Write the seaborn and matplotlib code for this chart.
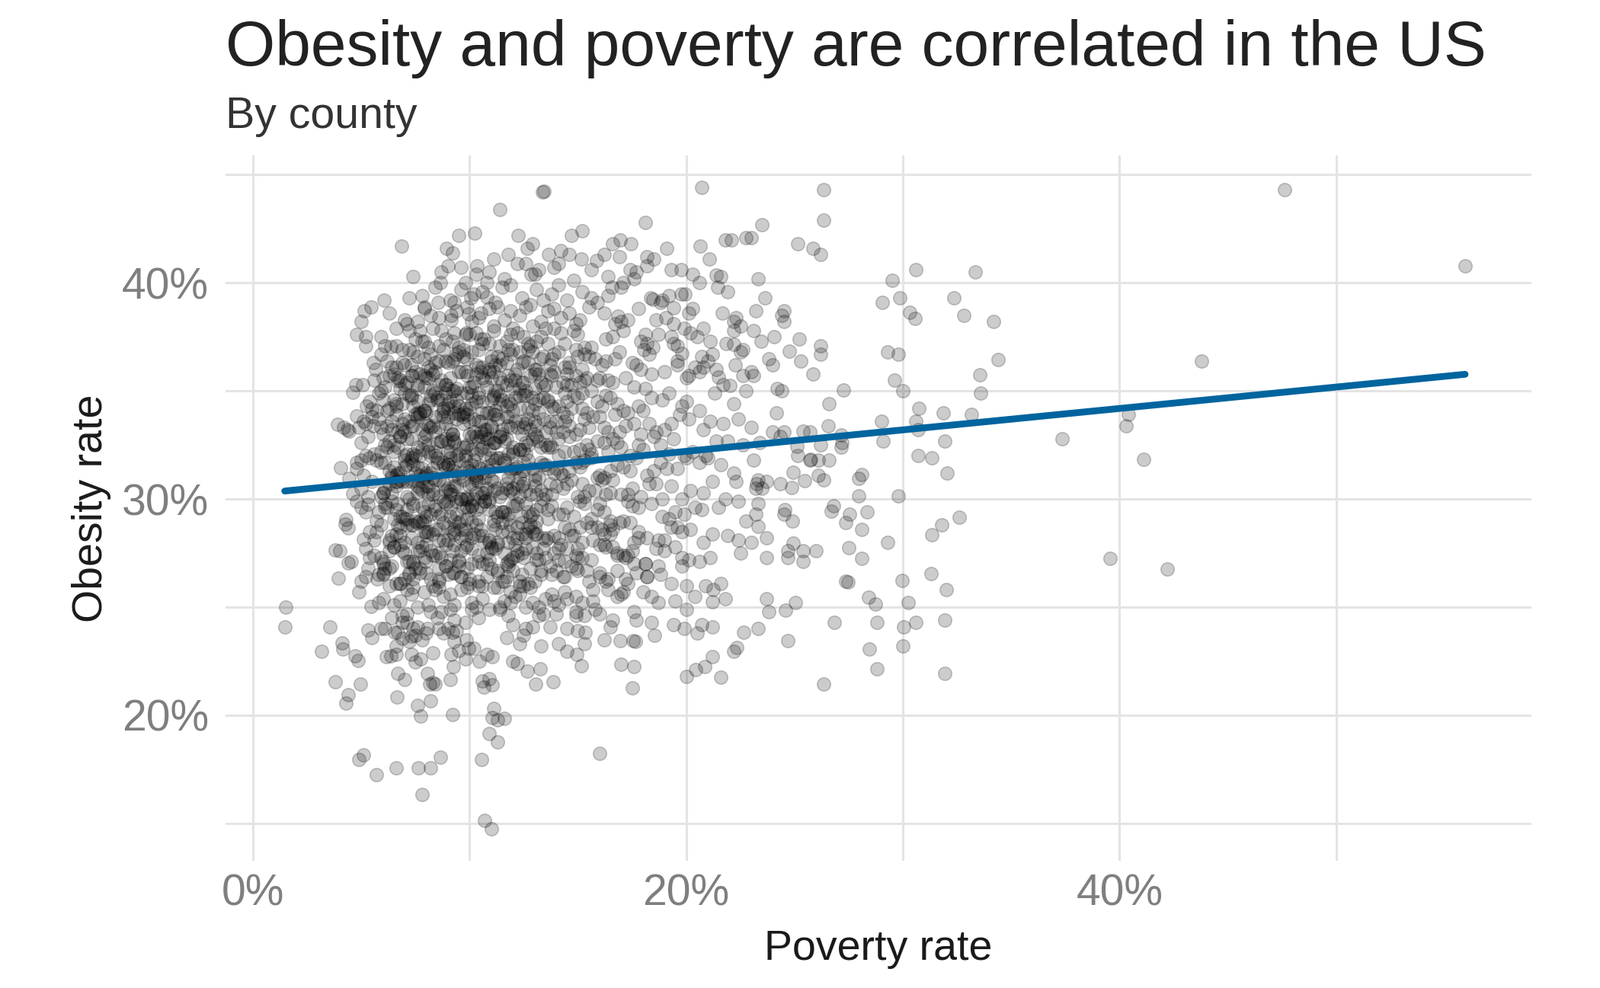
import pandas as pd
import matplotlib.pyplot as plt
import seaborn as sns
from matplotlib.ticker import FuncFormatter, MultipleLocator

# Dense middle of the cloud, read band by band (obesity 41% down to 23%)
core_poverty = [
    9.2, 11.1, 12.9, 14.2, 16.2, 19.1,
    7.4, 9.0, 10.9, 11.6, 12.2, 13.0, 13.9, 14.8, 15.6, 16.4, 18.2, 20.3,
    7.8, 8.4, 9.1, 10.6, 11.2, 11.9, 12.4, 13.1, 13.8, 14.5,
    15.2, 15.9, 16.4, 11.5, 12.8, 14.1, 15.6, 10.2, 9.6, 13.4,
    6.3, 7.1, 7.9, 8.6, 9.4, 10.1, 10.9, 11.6, 12.3, 12.9,
    13.6, 14.2, 14.9, 15.5, 16.2, 17.0, 17.8, 18.6, 11.1, 12.6,
    8.2, 9.9, 13.3, 14.6, 16.7, 10.4, 11.9, 15.1, 19.4, 13.9,
    5.9, 6.6, 7.2, 7.8, 8.3, 8.9, 9.5, 10.0, 10.6, 11.1,
    11.7, 12.2, 12.8, 13.3, 13.9, 14.4, 15.0, 15.6, 16.3, 17.1,
    17.9, 18.7, 19.6, 20.8, 9.2, 10.3, 11.4, 12.5, 13.6, 14.8,
    7.5, 8.6, 9.8, 10.9, 12.0, 13.1, 14.2, 15.3, 16.6, 18.2,
    11.9, 12.7, 13.5, 10.5, 8.1,
    6.2, 7.4, 8.1, 9.7, 10.3, 11.8, 12.4, 13.9, 15.2, 16.7,
    5.9, 7.0, 8.8, 9.2, 10.9, 11.3, 12.9, 14.4, 15.8, 17.5,
    6.6, 7.9, 8.4, 10.1, 11.0, 12.2, 13.4, 14.9, 16.1, 18.3,
    7.2, 8.6, 9.4, 10.6, 11.5, 12.7, 13.1, 14.1, 15.5, 19.6,
    6.9, 8.2, 9.9, 10.4, 11.9, 12.5, 13.7, 15.0, 16.9, 20.4,
    7.6, 9.0, 9.5, 11.2, 12.0, 13.3, 14.6, 16.3, 17.9, 21.2,
    5.6, 6.8, 7.7, 8.9, 9.6, 10.8, 11.4, 12.6, 13.8, 15.1,
    6.1, 7.3, 8.3, 9.1, 10.2, 11.1, 12.3, 13.2, 14.7, 16.4,
    6.5, 7.1, 8.0, 9.4, 10.5, 11.7, 12.8, 14.0, 15.6, 17.2,
    5.9, 7.5, 8.6, 9.9, 10.0, 11.9, 13.0, 14.3, 16.0, 18.1,
    6.7, 7.9, 8.4, 9.3, 10.7, 12.1, 13.5, 14.9, 16.6, 19.0,
    7.0, 8.1, 9.0, 10.3, 11.3, 12.5, 13.9, 15.3, 17.6, 20.1,
    6.3, 7.6, 8.7, 9.8, 11.0, 12.0, 13.3, 14.5, 15.9, 21.7,
    5.4, 6.3, 7.2, 8.0, 8.7, 9.5, 10.4, 11.2, 12.1, 13.0,
    13.9, 14.8, 15.9, 17.1, 18.4, 19.8, 21.3, 6.0, 7.6, 9.0,
    5.8, 6.9, 7.9, 8.5, 9.3, 10.1, 10.9, 11.8, 12.7, 13.6,
    14.5, 15.4, 16.5, 17.8, 19.2, 20.6, 6.6, 8.2, 9.8, 11.5,
    6.2, 7.3, 8.1, 8.9, 9.7, 10.6, 11.4, 12.3, 13.2, 14.1,
    15.0, 16.1, 17.3, 18.9, 22.2, 7.0, 8.8, 10.3, 12.5, 14.3,
    6.5, 7.7, 9.1, 10.0, 11.1, 12.0, 12.9, 13.8, 15.2, 16.8,
    7.4, 8.4, 9.4, 10.8, 11.9, 13.4, 14.7, 16.3, 18.0, 20.0,
    4.9, 5.8, 6.7, 7.5, 8.3, 9.2, 10.0, 10.8, 11.7, 12.6,
    13.5, 14.4, 15.5, 16.7, 17.9, 19.3, 20.8, 22.4, 6.2, 8.8,
    5.5, 6.4, 7.2, 8.0, 8.9, 9.6, 10.5, 11.3, 12.2, 13.1,
    14.0, 14.9, 16.0, 17.2, 18.6, 20.1, 21.7, 7.8, 9.9, 11.9,
    6.0, 6.9, 7.7, 8.6, 9.4, 10.2, 11.0, 11.8, 12.8, 13.7,
    14.6, 15.7, 16.9, 18.3, 19.7, 23.0, 7.0, 10.7, 12.4, 15.1,
    5.2, 6.6, 7.4, 8.4, 9.1, 10.4, 11.5, 12.5, 13.4, 14.3,
    15.3, 16.4, 17.6, 19.0, 21.1, 8.1, 9.7, 11.1, 13.0, 16.2,
    5.0, 5.9, 6.8, 7.6, 8.4, 9.3, 10.1, 10.9, 11.8, 12.7,
    13.6, 14.6, 15.6, 16.8, 18.0, 19.4, 20.9, 22.6, 6.3, 9.0,
    5.6, 6.5, 7.3, 8.1, 9.0, 9.8, 10.6, 11.4, 12.3, 13.2,
    14.1, 15.1, 16.2, 17.4, 18.8, 20.3, 21.9, 7.9, 10.3, 12.0,
    6.1, 7.0, 7.8, 8.7, 9.5, 10.3, 11.1, 12.0, 12.9, 13.8,
    14.8, 15.9, 17.0, 18.5, 19.9, 23.4, 7.1, 10.8, 12.5, 15.4,
    5.3, 6.7, 7.5, 8.5, 9.2, 10.5, 11.6, 12.6, 13.5, 14.4,
    15.5, 16.6, 17.8, 19.2, 21.4, 8.2, 9.8, 11.2, 13.1, 16.4,
    4.8, 5.7, 6.6, 7.4, 8.2, 9.1, 9.9, 10.7, 11.6, 12.5,
    13.4, 14.3, 15.3, 16.5, 17.7, 19.1, 20.6, 22.2, 6.4, 8.9,
    5.4, 6.3, 7.1, 7.9, 8.8, 9.6, 10.4, 11.2, 12.1, 13.0,
    13.9, 14.9, 15.9, 17.1, 18.5, 20.0, 21.6, 7.7, 10.2, 11.9,
    5.9, 6.8, 7.6, 8.5, 9.3, 10.1, 10.9, 11.8, 12.7, 13.6,
    14.6, 15.6, 16.8, 18.2, 19.6, 23.1, 7.0, 10.6, 12.3, 15.2,
    5.1, 6.5, 7.3, 8.3, 9.0, 10.3, 11.4, 12.4, 13.3, 14.2,
    15.1, 16.2, 17.4, 18.8, 21.0, 8.0, 9.5, 11.0, 12.9, 16.0,
    5.0, 5.9, 6.7, 7.6, 8.4, 9.2, 10.0, 10.9, 11.7, 12.6,
    13.5, 14.5, 15.5, 16.6, 17.9, 19.3, 20.8, 22.3, 6.1, 9.6,
    5.5, 6.4, 7.2, 8.0, 8.9, 9.7, 10.5, 11.3, 12.2, 13.1,
    14.0, 15.0, 16.1, 17.3, 18.6, 20.2, 21.8, 7.8, 10.3, 12.0,
    6.0, 6.9, 7.7, 8.6, 9.4, 10.2, 11.0, 11.9, 12.8, 13.7,
    14.7, 15.8, 17.0, 18.3, 19.8, 23.5, 7.1, 10.7, 12.4, 15.3,
    5.3, 6.6, 7.4, 8.3, 9.1, 10.4, 11.5, 12.5, 13.4, 14.3,
    15.2, 16.3, 17.5, 18.9, 21.2, 8.1, 9.9, 11.1, 13.0, 16.5,
    5.2, 6.1, 7.0, 7.8, 8.6, 9.4, 10.3, 11.1, 12.0, 12.9,
    13.8, 14.8, 15.9, 17.1, 18.4, 19.9, 21.5, 6.5, 9.0, 11.6,
    5.7, 6.6, 7.4, 8.2, 9.1, 9.9, 10.7, 11.5, 12.4, 13.3,
    14.3, 15.3, 16.5, 17.8, 19.2, 20.7, 22.4, 8.0, 10.1, 12.7,
    6.2, 7.1, 7.9, 8.8, 9.6, 10.5, 11.3, 12.2, 13.1, 14.1,
    15.1, 16.2, 17.5, 18.9, 20.4, 7.5, 10.9, 13.6, 16.0, 23.2,
    6.8, 8.4, 9.3, 10.0, 11.8, 12.6, 14.5, 15.6, 17.3, 19.5,
    5.4, 6.3, 7.1, 8.0, 8.8, 9.6, 10.5, 11.3, 12.2, 13.1,
    14.1, 15.1, 16.2, 17.4, 18.7, 20.2, 21.9, 6.7, 9.2, 11.8,
    5.9, 6.8, 7.6, 8.4, 9.3, 10.1, 10.9, 11.8, 12.7, 13.6,
    14.6, 15.7, 16.9, 18.2, 19.6, 21.2, 23.0, 7.4, 10.4, 12.9,
    6.4, 7.3, 8.1, 9.0, 9.8, 10.7, 11.5, 12.4, 13.4, 14.4,
    15.4, 16.5, 17.8, 19.3, 20.8, 7.9, 11.1, 13.9, 16.1, 22.4,
    5.6, 8.6, 9.5, 10.2, 12.0, 12.8, 14.8, 15.9, 17.6, 19.8,
    5.6, 6.5, 7.4, 8.2, 9.1, 9.9, 10.8, 11.7, 12.6, 13.5,
    14.5, 15.6, 16.8, 18.1, 19.5, 21.1, 6.9, 9.5, 12.1, 14.9,
    6.0, 7.0, 7.8, 8.7, 9.6, 10.4, 11.3, 12.2, 13.1, 14.1,
    15.2, 16.3, 17.6, 19.0, 20.6, 22.5, 8.0, 10.9, 13.4, 17.1,
    6.3, 7.2, 8.4, 9.3, 10.1, 11.0, 11.9, 12.9, 13.9, 15.0,
    16.0, 17.3, 18.6, 20.1, 7.6, 10.6, 12.4, 14.4, 16.6, 19.8,
    5.8, 6.8, 7.7, 8.6, 9.5, 10.4, 11.3, 12.3, 13.3, 14.4,
    15.5, 16.8, 18.2, 19.8, 21.6, 7.2, 10.0, 12.8, 6.3, 9.0,
    6.1, 7.4, 8.3, 9.2, 10.8, 11.8, 12.7, 13.8, 15.0, 16.3,
    17.7, 19.3, 8.9, 11.5, 14.0, 16.0, 7.0, 9.9, 12.4, 20.9,
    6.6, 8.0, 9.6, 11.0, 13.0, 14.7, 17.2, 10.6, 12.0, 18.8,
    6.0, 7.1, 8.1, 9.1, 10.1, 11.1, 12.1, 13.2, 14.4, 15.7,
    17.1, 18.7, 20.4, 7.6, 9.6, 11.6, 13.8, 6.5, 8.6, 10.6,
    12.6, 14.9, 16.4, 19.5, 7.3, 9.3, 11.3, 13.5, 15.2, 18.0,
    6.8, 8.4, 10.3, 12.3, 14.1, 16.8, 9.9, 11.9, 7.9, 21.8,
    6.4, 7.6, 8.7, 9.8, 10.9, 12.0, 13.2, 14.5, 16.0, 17.7,
    19.4, 7.1, 9.3, 11.4, 13.7, 15.3, 18.4, 8.2, 10.4, 12.6,
    14.9, 6.9, 9.0, 11.8, 16.6, 10.1, 12.9, 8.5, 14.0, 20.7,
    7.2, 8.8, 10.2, 11.7, 13.3, 15.0, 16.2, 9.5, 12.5, 14.1,
]
core_obesity = [
    41.4, 41.1, 41.8, 41.5, 41.3, 41.6,
    40.3, 40.8, 40.5, 40.2, 40.9, 40.4, 40.7, 40.1, 40.6, 40.3, 40.8, 40.4,
    39.4, 39.8, 39.2, 39.6, 39.1, 39.9, 39.3, 39.7, 39.5, 39.2,
    39.6, 39.1, 39.4, 39.8, 39.0, 39.9, 39.3, 39.5, 39.7, 39.2,
    38.6, 38.1, 38.9, 38.4, 38.7, 38.2, 38.8, 38.3, 38.5, 38.0,
    38.7, 38.4, 38.1, 38.9, 38.6, 38.2, 38.8, 38.3, 38.0, 38.9,
    38.5, 38.9, 38.2, 38.6, 38.1, 38.4, 38.7, 38.3, 38.1, 38.8,
    37.5, 37.1, 37.8, 37.3, 37.9, 37.4, 37.0, 37.6, 37.2, 37.8,
    37.3, 37.7, 37.1, 37.5, 37.9, 37.2, 37.6, 37.0, 37.4, 37.8,
    37.3, 37.6, 37.1, 37.9, 37.3, 37.7, 37.1, 37.5, 37.2, 37.8,
    37.4, 37.1, 37.6, 37.2, 37.9, 37.3, 37.7, 37.0, 37.5, 37.2,
    37.6, 37.2, 37.9, 37.4, 37.0,
    36.4, 36.8, 36.1, 36.6, 36.2, 36.9, 36.3, 36.7, 36.0, 36.5,
    36.7, 36.2, 36.9, 36.4, 36.0, 36.6, 36.8, 36.1, 36.5, 36.3,
    36.1, 36.5, 36.3, 36.8, 36.4, 36.0, 36.6, 36.9, 36.2, 36.7,
    36.9, 36.4, 36.7, 36.1, 36.5, 36.3, 36.0, 36.8, 36.6, 36.2,
    36.3, 36.0, 36.5, 36.9, 36.7, 36.4, 36.2, 36.6, 36.8, 36.1,
    36.6, 36.3, 36.8, 36.2, 36.9, 36.5, 36.1, 36.4, 36.0, 36.7,
    35.5, 35.1, 35.8, 35.3, 35.9, 35.2, 35.6, 35.0, 35.7, 35.4,
    35.2, 35.7, 35.0, 35.6, 35.4, 35.9, 35.1, 35.8, 35.3, 35.5,
    35.8, 35.4, 35.6, 35.1, 35.9, 35.3, 35.7, 35.2, 35.0, 35.6,
    35.0, 35.9, 35.3, 35.7, 35.2, 35.5, 35.8, 35.4, 35.6, 35.1,
    35.6, 35.2, 35.9, 35.0, 35.5, 35.8, 35.3, 35.7, 35.4, 35.9,
    35.3, 35.6, 35.1, 35.8, 35.0, 35.4, 35.9, 35.5, 35.2, 35.7,
    35.7, 35.3, 35.5, 35.9, 35.6, 35.1, 35.4, 35.8, 35.5, 35.3,
    34.5, 34.2, 34.8, 34.0, 34.6, 34.3, 34.9, 34.1, 34.7, 34.4,
    34.2, 34.8, 34.5, 34.1, 34.7, 34.3, 34.9, 34.6, 34.0, 34.4,
    34.9, 34.4, 34.1, 34.7, 34.3, 34.8, 34.0, 34.5, 34.2, 34.6,
    34.5, 34.0, 34.7, 34.3, 34.9, 34.1, 34.4, 34.8, 34.2, 34.6,
    34.1, 34.7, 34.4, 34.9, 34.0, 34.5, 34.8, 34.2, 34.6, 34.3,
    34.7, 34.3, 34.0, 34.6, 34.4, 34.9, 34.1, 34.5, 34.8, 34.0,
    34.6, 34.0, 34.5, 34.2, 34.8, 34.1, 34.7, 34.3, 34.9, 34.4,
    34.3, 34.9, 34.6, 34.0, 34.4, 34.7, 34.2, 34.8, 34.1, 34.5,
    33.3, 33.7, 33.1, 33.9, 33.4, 33.0, 33.6, 33.2, 33.8, 33.5,
    33.1, 33.6, 33.3, 33.9, 33.0, 33.5, 33.2, 33.7, 33.4, 33.8,
    33.8, 33.2, 33.6, 33.0, 33.5, 33.9, 33.1, 33.7, 33.3, 33.4,
    33.6, 33.0, 33.8, 33.4, 33.1, 33.7, 33.5, 33.2, 33.9, 33.3,
    33.0, 33.5, 33.9, 33.3, 33.7, 33.1, 33.4, 33.8, 33.2, 33.6,
    33.4, 33.8, 33.1, 33.5, 33.9, 33.3, 33.7, 33.0, 33.6, 33.2,
    33.5, 33.9, 33.4, 33.8, 33.2, 33.6, 33.0, 33.3, 33.7, 33.1,
    33.7, 33.1, 33.5, 33.2, 33.6, 33.4, 33.8, 33.9, 33.0, 33.3,
    32.6, 32.2, 32.9, 32.4, 32.0, 32.7, 32.3, 32.8, 32.1, 32.5,
    32.4, 32.9, 32.1, 32.6, 32.3, 32.8, 32.0, 32.5, 32.7, 32.2,
    32.1, 32.5, 32.8, 32.2, 32.6, 32.0, 32.4, 32.9, 32.3, 32.7,
    32.8, 32.3, 32.6, 32.0, 32.5, 32.2, 32.7, 32.9, 32.1, 32.4,
    32.5, 32.0, 32.3, 32.7, 32.1, 32.9, 32.6, 32.2, 32.8, 32.4,
    32.2, 32.7, 32.4, 32.9, 32.0, 32.6, 32.1, 32.8, 32.3, 32.5,
    32.9, 32.4, 32.0, 32.6, 32.8, 32.3, 32.7, 32.1, 32.5, 32.2,
    32.3, 32.8, 32.5, 32.1, 32.7, 32.0, 32.4, 32.6, 32.9, 32.2,
    31.4, 31.8, 31.1, 31.6, 31.2, 31.9, 31.5, 31.0, 31.7, 31.3,
    31.6, 31.1, 31.8, 31.3, 31.9, 31.4, 31.7, 31.2, 31.0, 31.5,
    31.9, 31.3, 31.6, 31.0, 31.7, 31.2, 31.5, 31.8, 31.4, 31.1,
    31.2, 31.7, 31.0, 31.5, 31.3, 31.9, 31.6, 31.1, 31.8, 31.4,
    31.7, 31.2, 31.5, 31.9, 31.1, 31.6, 31.3, 31.0, 31.8, 31.4,
    31.3, 31.9, 31.6, 31.1, 31.4, 31.8, 31.5, 31.2, 31.0, 31.7,
    31.1, 31.5, 31.8, 31.4, 31.6, 31.0, 31.9, 31.3, 31.7, 31.2,
    31.5, 31.0, 31.3, 31.7, 31.9, 31.2, 31.8, 31.6, 31.4, 31.1,
    30.5, 30.1, 30.8, 30.3, 30.9, 30.2, 30.6, 30.0, 30.7, 30.4,
    30.2, 30.7, 30.4, 30.9, 30.1, 30.6, 30.3, 30.8, 30.5, 30.0,
    30.8, 30.3, 30.0, 30.6, 30.4, 30.9, 30.1, 30.5, 30.7, 30.2,
    30.6, 30.1, 30.9, 30.2, 30.7, 30.4, 30.0, 30.8, 30.3, 30.5,
    30.3, 30.8, 30.5, 30.1, 30.6, 30.0, 30.9, 30.4, 30.2, 30.7,
    30.9, 30.4, 30.2, 30.7, 30.0, 30.5, 30.8, 30.3, 30.6, 30.1,
    30.1, 30.6, 30.9, 30.4, 30.2, 30.8, 30.3, 30.7, 30.0, 30.5,
    30.7, 30.2, 30.5, 30.0, 30.8, 30.6, 30.1, 30.4, 30.9, 30.3,
    29.4, 29.8, 29.1, 29.6, 29.2, 29.9, 29.5, 29.0, 29.7, 29.3,
    29.7, 29.2, 29.5, 29.0, 29.8, 29.3, 29.6, 29.1, 29.9, 29.4,
    29.0, 29.5, 29.8, 29.3, 29.6, 29.1, 29.9, 29.4, 29.2, 29.7,
    29.3, 29.8, 29.0, 29.6, 29.1, 29.5, 29.9, 29.2, 29.7, 29.4,
    29.6, 29.1, 29.4, 29.9, 29.0, 29.7, 29.2, 29.8, 29.5, 29.3,
    29.9, 29.4, 29.7, 29.2, 29.6, 29.0, 29.5, 29.1, 29.8, 29.3,
    29.2, 29.7, 29.0, 29.5, 29.3, 29.8, 29.6, 29.1, 29.9, 29.4,
    28.5, 28.1, 28.8, 28.3, 28.9, 28.2, 28.6, 28.0, 28.7, 28.4,
    28.2, 28.7, 28.4, 28.9, 28.1, 28.6, 28.3, 28.8, 28.5, 28.0,
    28.8, 28.3, 28.0, 28.6, 28.4, 28.9, 28.1, 28.5, 28.7, 28.2,
    28.6, 28.1, 28.9, 28.2, 28.7, 28.4, 28.0, 28.8, 28.3, 28.5,
    28.3, 28.8, 28.5, 28.1, 28.6, 28.0, 28.9, 28.4, 28.2, 28.7,
    28.9, 28.4, 28.2, 28.7, 28.0, 28.5, 28.8, 28.3, 28.6, 28.1,
    28.1, 28.6, 28.9, 28.4, 28.2, 28.8, 28.3, 28.7, 28.0, 28.5,
    27.4, 27.8, 27.1, 27.6, 27.2, 27.9, 27.5, 27.0, 27.7, 27.3,
    27.7, 27.2, 27.5, 27.0, 27.8, 27.3, 27.6, 27.1, 27.9, 27.4,
    27.0, 27.5, 27.8, 27.3, 27.6, 27.1, 27.9, 27.4, 27.2, 27.7,
    27.3, 27.8, 27.0, 27.6, 27.1, 27.5, 27.9, 27.2, 27.7, 27.4,
    27.6, 27.1, 27.4, 27.9, 27.0, 27.7, 27.2, 27.8, 27.5, 27.3,
    27.9, 27.4, 27.7, 27.2, 27.6, 27.0, 27.5, 27.1, 27.8, 27.3,
    26.5, 26.1, 26.8, 26.3, 26.9, 26.2, 26.6, 26.0, 26.7, 26.4,
    26.2, 26.7, 26.4, 26.9, 26.1, 26.6, 26.3, 26.8, 26.0, 26.5,
    26.8, 26.3, 26.0, 26.6, 26.4, 26.9, 26.1, 26.5, 26.7, 26.2,
    26.6, 26.1, 26.9, 26.2, 26.7, 26.4, 26.3, 26.8, 26.5, 26.0,
    26.1, 26.6, 26.4, 26.8, 26.2, 26.9, 26.3, 26.0, 26.7, 26.5,
    25.4, 25.8, 25.1, 25.6, 25.2, 25.9, 25.5, 25.0, 25.7, 25.3,
    25.7, 25.2, 25.5, 25.0, 25.8, 25.3, 25.6, 25.1, 25.9, 25.4,
    25.0, 25.5, 25.8, 25.3, 25.6, 25.1, 25.9, 25.4, 25.2, 25.7,
    25.3, 25.8, 25.0, 25.6, 25.1, 25.5, 25.9, 25.2, 25.7, 25.4,
    24.5, 24.1, 24.8, 24.3, 24.9, 24.2, 24.6, 24.0, 24.7, 24.4,
    24.2, 24.7, 24.4, 24.9, 24.1, 24.6, 24.3, 24.8, 24.5, 24.0,
    24.8, 24.3, 24.0, 24.6, 24.4, 24.9, 24.1, 24.5, 24.7, 24.2,
    23.4, 23.8, 23.1, 23.6, 23.2, 23.9, 23.5, 23.0, 23.7, 23.3,
]

# Darkest part of the cloud, where circles pile up (obesity 36% down to 26%)
center_poverty = [
    7.3, 8.2, 8.9, 9.7, 10.4, 11.0, 11.7, 12.3, 13.0, 13.8, 14.6, 15.3, 9.3, 11.4, 12.7,
    6.8, 7.6, 8.3, 8.9, 9.5, 10.1, 10.6, 11.2, 11.8, 12.4,
    13.0, 13.7, 14.5, 15.4, 9.2, 10.9, 12.1, 13.4, 7.9, 11.5,
    6.6, 7.3, 7.9, 8.5, 9.0, 9.6, 10.1, 10.6, 11.1, 11.7,
    12.3, 12.9, 13.6, 14.4, 15.2, 8.2, 9.3, 10.4, 11.4, 12.6,
    7.6, 8.8, 9.9, 11.0, 13.2,
    6.4, 7.0, 7.6, 8.2, 8.7, 9.2, 9.7, 10.2, 10.7, 11.2,
    11.8, 12.4, 13.0, 13.7, 14.5, 7.3, 8.4, 9.5, 10.5, 11.5,
    12.7, 8.0, 9.0, 10.0, 11.0, 12.1, 14.0, 6.9,
    6.2, 6.8, 7.4, 7.9, 8.4, 8.9, 9.4, 9.9, 10.4, 10.9,
    11.4, 12.0, 12.6, 13.3, 14.1, 7.1, 8.1, 9.1, 10.1, 11.1,
    12.3, 7.7, 8.7, 9.7, 10.7, 11.7, 13.7, 6.5, 9.3, 10.5,
    6.1, 6.7, 7.3, 7.8, 8.3, 8.8, 9.3, 9.8, 10.3, 10.8,
    11.3, 11.9, 12.5, 13.2, 14.0, 7.0, 8.0, 9.0, 10.0, 11.0,
    12.2, 7.5, 8.5, 9.5, 10.5, 11.6, 13.5, 6.4, 9.2, 10.1,
    6.0, 6.6, 7.1, 7.6, 8.1, 8.6, 9.1, 9.6, 10.1, 10.6,
    11.1, 11.7, 12.3, 13.0, 13.8, 6.8, 7.8, 8.8, 9.8, 10.8,
    12.0, 7.3, 8.3, 9.3, 10.3, 11.4, 13.3, 6.3, 9.0, 9.9,
    5.8, 6.4, 6.9, 7.4, 7.9, 8.4, 8.9, 9.4, 9.9, 10.4,
    10.9, 11.5, 12.1, 12.8, 13.6, 6.7, 7.7, 8.7, 9.7, 10.7,
    11.8, 7.1, 8.1, 9.1, 10.1, 11.2, 13.1, 6.1,
    5.7, 6.3, 6.8, 7.3, 7.8, 8.3, 8.8, 9.3, 9.8, 10.3,
    10.9, 11.5, 12.2, 13.0, 6.6, 7.6, 8.6, 9.6, 10.6, 11.9,
    7.0, 8.0, 9.0, 10.1, 12.6,
    5.9, 6.5, 7.1, 7.7, 8.3, 8.9, 9.5, 10.1, 10.8, 11.6,
    12.5, 6.8, 8.0, 9.2, 10.4, 11.2, 7.4, 8.6, 9.8, 13.2,
    6.0, 6.8, 7.5, 8.2, 8.9, 9.6, 10.4, 11.3, 12.3, 7.2, 8.6, 10.0, 11.7, 6.4, 9.3,
]
center_obesity = [
    36.2, 36.7, 36.4, 36.9, 36.1, 36.6, 36.3, 36.8, 36.0, 36.5, 36.3, 36.7, 36.5, 36.2, 36.9,
    35.5, 35.1, 35.8, 35.3, 35.9, 35.2, 35.6, 35.0, 35.7, 35.4,
    35.1, 35.8, 35.3, 35.6, 35.0, 35.9, 35.5, 35.2, 35.7, 35.4,
    34.3, 34.8, 34.1, 34.6, 34.2, 34.9, 34.4, 34.0, 34.7, 34.3,
    34.8, 34.1, 34.5, 34.9, 34.2, 34.6, 34.0, 34.7, 34.4, 34.8,
    34.5, 34.2, 34.9, 34.6, 34.0,
    33.6, 33.1, 33.8, 33.3, 33.9, 33.0, 33.5, 33.7, 33.2, 33.9,
    33.4, 33.0, 33.6, 33.3, 33.8, 33.4, 33.1, 33.9, 33.6, 33.2,
    33.7, 33.5, 33.8, 33.0, 33.3, 33.6, 33.1, 33.2,
    32.4, 32.9, 32.1, 32.6, 32.2, 32.8, 32.0, 32.5, 32.7, 32.3,
    32.9, 32.1, 32.6, 32.4, 32.0, 32.8, 32.5, 32.2, 32.9, 32.6,
    32.3, 32.0, 32.7, 32.4, 32.1, 32.8, 32.5, 32.2, 32.6, 32.9,
    31.7, 31.2, 31.9, 31.4, 31.0, 31.6, 31.3, 31.8, 31.1, 31.5,
    31.9, 31.3, 31.7, 31.0, 31.4, 31.8, 31.1, 31.6, 31.3, 31.9,
    31.5, 31.2, 31.7, 31.0, 31.4, 31.8, 31.6, 31.1, 31.5, 31.2,
    30.3, 30.8, 30.1, 30.6, 30.2, 30.9, 30.4, 30.0, 30.7, 30.3,
    30.8, 30.5, 30.1, 30.6, 30.2, 30.9, 30.4, 30.7, 30.0, 30.5,
    30.3, 30.8, 30.2, 30.6, 30.9, 30.1, 30.4, 30.7, 30.5, 30.0,
    29.4, 29.9, 29.2, 29.7, 29.0, 29.5, 29.8, 29.3, 29.6, 29.1,
    29.9, 29.4, 29.7, 29.2, 29.5, 29.8, 29.0, 29.3, 29.6, 29.9,
    29.1, 29.5, 29.8, 29.2, 29.7, 29.4, 29.0, 29.6,
    28.5, 28.0, 28.7, 28.2, 28.9, 28.4, 28.1, 28.6, 28.3, 28.8,
    28.0, 28.5, 28.2, 28.7, 28.4, 28.9, 28.1, 28.6, 28.3, 28.8,
    28.0, 28.5, 28.7, 28.2, 28.4,
    27.3, 27.8, 27.1, 27.6, 27.4, 27.9, 27.2, 27.7, 27.0, 27.5,
    27.3, 27.9, 27.1, 27.6, 27.4, 27.7, 27.0, 27.5, 27.8, 27.2,
    26.6, 26.1, 26.8, 26.3, 26.9, 26.4, 26.0, 26.7, 26.2, 26.5, 26.8, 26.1, 26.4, 26.9, 26.6,
]

# Lower middle of the cloud (poverty 11-19%, obesity 24-29%)
lower_poverty = [
    11.2, 12.0, 12.8, 13.5, 14.3, 15.0, 15.8, 16.5, 17.3, 18.1,
    11.6, 12.4, 13.1, 13.9, 14.7, 15.4, 16.2, 17.0, 17.8, 18.7,
    11.0, 11.9, 12.6, 13.3, 14.1, 14.9, 15.6, 16.4, 17.5, 18.4,
    11.4, 12.2, 13.0, 13.7, 14.5, 15.2, 16.0, 16.8, 17.6, 19.0,
    11.8, 12.5, 13.4, 14.2, 14.9, 15.7, 16.6, 17.2, 18.2, 12.9,
]
lower_obesity = [
    28.6, 27.3, 25.9, 28.1, 26.4, 27.7, 24.9, 28.8, 26.1, 27.0,
    26.2, 28.9, 27.5, 25.3, 28.3, 26.7, 27.9, 25.6, 28.5, 26.9,
    27.8, 25.7, 28.2, 26.5, 27.2, 24.6, 28.7, 26.3, 27.6, 25.5,
    25.0, 27.6, 28.4, 26.9, 25.4, 28.0, 26.6, 27.4, 24.8, 28.1,
    27.1, 26.0, 24.7, 27.9, 26.8, 25.8, 28.6, 27.3, 26.4, 25.2,
]

# Fuller corners of the cloud: upper right and lower left
corner_poverty = [
    17.3, 18.1, 18.8, 19.6, 20.3, 21.1, 21.9, 22.6, 17.7, 19.2,
    20.7, 22.2, 18.4, 19.9, 21.4, 17.0, 20.0, 23.1,
    5.2, 5.8, 6.3, 6.9, 7.4, 8.0, 8.6, 9.1, 5.5, 6.6,
    7.7, 8.8, 6.0, 7.1, 8.3, 4.9, 7.9, 9.4,
]
corner_obesity = [
    38.3, 37.6, 39.1, 36.4, 38.8, 37.3, 39.6, 36.9, 36.2, 39.4,
    36.6, 38.2, 35.8, 37.9, 36.0, 39.8, 35.6, 37.8,
    26.4, 25.2, 26.8, 24.6, 25.9, 23.8, 26.2, 24.9, 23.6, 23.2,
    26.6, 25.5, 27.1, 24.3, 22.9, 25.7, 27.3, 23.9,
]

# Sparser edge of the cloud, read point by point
edge_poverty = [
    11.4, 6.85, 8.95, 9.5, 10.25, 11.8, 8.7, 8.65, 9.6, 10.35,
    10.3, 10.8, 9.8, 6.05, 7.2, 5.45, 5.15, 5.0, 4.8, 5.2,
    5.2, 5.55, 5.65, 4.75, 5.05, 4.6, 8.55, 9.3, 10.05, 10.8,
    7.9, 9.15, 9.15, 9.95, 10.5, 11.3, 7.0, 6.6, 7.6, 8.7,
    7.7, 9.85, 6.1, 6.35, 7.9, 9.3, 10.65, 6.4, 6.9, 6.0,
    6.7, 7.35,
    13.35, 13.45, 20.7, 18.1, 23.5, 12.25, 14.7, 15.2, 16.6, 16.95,
    17.45, 12.65, 13.65, 14.6, 15.15, 15.85, 12.6, 13.2, 12.85, 14.1,
    16.9, 17.4, 17.7, 18.2, 18.5, 19.3, 19.75, 20.65, 21.05, 21.8,
    22.1, 22.75, 23.0, 21.4, 21.6, 21.45, 20.6, 23.3, 19.95, 19.75,
    21.65, 23.2, 23.65, 20.1, 19.4, 19.05, 18.9, 18.35, 18.45, 17.1,
    17.6, 16.55, 16.85, 22.3, 22.5, 22.2, 23.45, 20.2, 20.5, 19.3,
    19.4, 18.05, 18.45, 19.8, 21.85, 22.2, 22.5, 21.0, 20.8, 20.6,
    22.25, 21.5, 22.6, 23.0, 23.1, 22.0, 22.75,
    26.35, 26.35, 25.15, 25.85, 26.2, 30.6, 33.35, 29.5, 29.05, 29.85,
    30.3, 30.55, 32.35, 32.8, 34.2, 24.4, 24.5, 24.5, 24.05, 25.2,
    26.2, 26.2, 24.75, 23.8, 24.0, 25.3, 25.85, 24.2, 24.4, 27.25,
    29.3, 29.8, 29.6, 30.0, 34.4, 33.55, 33.6,
    26.6, 24.15, 30.75, 31.85, 33.15, 29.0, 30.6, 30.7, 26.55, 31.95,
    29.1, 30.7, 31.35, 32.05, 25.4, 25.7, 24.0, 24.5, 24.35, 27.15,
    27.2, 27.15, 25.1, 25.15, 26.2, 25.7, 25.75, 26.1, 26.6, 24.95,
    25.45, 24.85, 24.35, 23.7, 26.1, 26.35, 27.95, 28.1, 27.95, 29.8,
    26.8, 26.7, 24.55, 24.5, 24.9, 27.55, 27.35, 28.35, 28.1, 29.3,
    27.5, 28.1, 31.35, 31.8, 32.6, 24.95, 23.7, 23.7, 24.7, 24.7,
    25.4, 25.4, 26.0, 27.35, 27.45, 29.95, 31.3, 32.0, 28.4, 28.75,
    30.25, 25.05, 24.6, 23.7, 23.8, 26.85, 28.8, 30.6, 31.95, 23.3,
    23.3, 22.75, 23.2, 23.3, 23.25, 21.25, 21.2, 20.0, 20.0,
    1.47, 3.55, 3.15, 4.1, 4.15, 4.7, 4.85, 3.8, 4.95, 4.4,
    4.3, 5.3, 5.9, 6.1, 6.55, 6.7, 7.4, 8.05, 6.9, 7.3,
    7.5, 7.8, 6.15, 6.35, 6.6, 7.3, 7.75, 7.5, 6.7, 7.0,
    8.05, 8.15, 8.3, 8.4, 9.1, 6.65, 7.6, 8.2, 7.75, 9.2,
    8.6, 9.2, 9.3, 9.15, 9.25, 9.85, 9.95, 9.8, 10.45, 10.8,
    11.05, 10.6, 10.65, 10.9, 11.05, 11.1, 11.05, 11.3, 11.6, 10.9,
    11.3, 10.55, 4.9, 5.1, 5.7, 6.6, 7.65, 8.2, 8.65, 7.8,
    10.7, 11.0, 3.9, 4.2, 4.45, 4.35, 4.8, 5.25, 5.5, 5.7,
    5.1, 5.55, 5.9, 4.05, 4.45, 4.6, 4.8, 5.0, 5.2, 4.3,
    4.25, 4.4, 5.1, 3.8, 4.0, 4.4, 4.55, 3.95, 5.0, 1.5,
    5.45, 4.8, 5.0, 5.3, 5.2, 5.4, 5.3, 5.75, 6.0,
    12.3, 12.0, 12.2, 12.65, 13.25, 13.05, 13.85, 14.5, 14.95, 15.3,
    15.15, 15.35, 16.95, 17.55, 17.65, 17.0, 17.6, 17.5, 18.55, 16.0,
    20.0, 20.45, 20.85, 21.2, 21.6, 22.2, 22.35, 22.65, 23.3, 19.9,
    20.5, 21.2, 16.5, 24.7, 26.35, 28.45, 28.8, 30.0, 30.05, 31.95,
]
edge_obesity = [
    43.4, 41.7, 41.6, 42.2, 42.3, 41.3, 40.5, 40.0, 40.7, 40.8,
    40.4, 40.0, 40.0, 39.2, 39.3, 38.9, 38.7, 38.2, 37.6, 37.5,
    37.1, 36.3, 36.0, 35.3, 35.3, 34.95, 39.1, 39.1, 39.3, 39.35,
    38.8, 38.5, 38.3, 38.55, 38.6, 38.9, 38.3, 37.9, 38.2, 37.8,
    37.8, 37.7, 37.1, 37.05, 37.3, 37.7, 37.4, 36.1, 36.9, 35.6,
    35.45, 35.7,
    44.2, 44.25, 44.4, 42.8, 42.7, 42.2, 42.2, 42.4, 41.8, 42.0,
    41.8, 41.6, 41.3, 41.3, 41.1, 41.05, 40.9, 40.6, 40.4, 40.9,
    41.2, 40.6, 40.5, 41.2, 41.1, 40.6, 40.6, 41.7, 41.1, 42.0,
    42.0, 42.1, 42.1, 40.35, 40.3, 39.8, 40.0, 40.2, 39.5, 39.5,
    38.6, 38.7, 39.3, 38.6, 38.85, 38.4, 39.2, 39.3, 39.25, 40.0,
    40.2, 39.8, 38.45, 38.4, 38.0, 37.8, 37.3, 37.7, 37.5, 37.5,
    37.2, 36.9, 37.0, 36.75, 37.2, 37.15, 36.8, 36.4, 36.1, 35.9,
    36.2, 35.65, 35.7, 35.9, 35.7, 35.25, 35.0,
    44.3, 42.9, 41.8, 41.6, 41.3, 40.6, 40.5, 40.1, 39.1, 39.3,
    38.65, 38.35, 39.3, 38.5, 38.2, 38.5, 38.7, 38.2, 37.5, 37.4,
    37.1, 36.7, 36.85, 36.5, 36.2, 36.4, 35.8, 35.1, 35.0, 35.05,
    36.8, 36.7, 35.5, 35.0, 36.45, 35.75, 34.9,
    34.4, 34.0, 34.2, 34.0, 33.9, 33.6, 33.6, 33.2, 33.4, 32.7,
    32.7, 32.0, 31.9, 31.2, 33.15, 33.1, 33.1, 33.1, 32.9, 32.95,
    32.6, 32.4, 32.45, 32.0, 32.5, 31.8, 31.85, 31.8, 31.8, 31.25,
    30.85, 30.55, 30.7, 30.8, 31.1, 30.9, 30.95, 31.15, 30.15, 30.15,
    29.7, 29.45, 29.5, 29.3, 29.0, 29.3, 28.9, 29.4, 28.6, 28.0,
    27.75, 27.25, 28.35, 28.8, 29.15, 27.95, 28.2, 27.3, 27.6, 27.3,
    27.6, 27.1, 27.6, 26.2, 26.15, 26.25, 26.55, 25.8, 25.45, 25.15,
    25.2, 25.2, 24.85, 25.4, 24.8, 24.3, 24.3, 24.3, 24.4, 29.8,
    28.75, 29.0, 30.5, 30.9, 30.7, 25.8, 25.25, 24.9, 26.0,
    24.1, 24.1, 22.95, 23.35, 23.05, 22.75, 22.55, 21.55, 21.45, 20.95,
    20.55, 23.95, 24.0, 24.0, 23.85, 23.85, 24.0, 24.0, 23.55, 23.65,
    23.7, 23.5, 22.7, 22.75, 22.8, 22.8, 22.6, 22.45, 21.95, 21.65,
    21.95, 21.45, 21.5, 21.45, 21.65, 20.85, 20.45, 20.65, 19.95, 20.05,
    24.0, 23.85, 23.4, 22.8, 22.25, 23.5, 23.1, 22.6, 22.5, 22.8,
    22.7, 21.6, 21.3, 21.7, 21.4, 20.3, 19.9, 19.8, 19.85, 19.15,
    18.75, 17.95, 17.95, 18.15, 17.25, 17.55, 17.55, 17.55, 18.05, 16.35,
    15.15, 14.75, 33.45, 33.3, 33.15, 33.2, 33.85, 34.3, 34.15, 34.1,
    33.6, 33.4, 33.3, 31.45, 30.95, 30.25, 31.7, 31.8, 32.0, 29.05,
    28.85, 28.65, 28.15, 27.65, 27.6, 27.05, 27.1, 26.35, 26.2, 25.0,
    25.05, 29.9, 29.6, 29.75, 27.7, 27.3, 26.8, 26.3, 26.5,
    23.3, 22.5, 22.4, 22.05, 22.15, 21.45, 21.55, 22.95, 22.8, 23.3,
    22.3, 23.85, 23.45, 23.45, 23.4, 22.35, 22.25, 21.25, 23.7, 18.25,
    21.8, 22.1, 22.25, 22.7, 21.75, 22.95, 23.15, 23.85, 24.0, 24.0,
    23.8, 24.1, 24.1, 23.45, 21.45, 23.05, 22.15, 23.2, 24.1, 21.95,
]

# Counties far to the right
outlier_poverty = [47.6, 55.95, 43.8, 40.4, 40.3, 37.35, 41.1, 39.55, 42.2]
outlier_obesity = [44.3, 40.8, 36.4, 33.9, 33.4, 32.8, 31.85, 27.25, 26.75]

df = pd.DataFrame({
    "poverty": (core_poverty + center_poverty + lower_poverty + corner_poverty
                + edge_poverty + outlier_poverty),
    "obesity": (core_obesity + center_obesity + lower_obesity + corner_obesity
                + edge_obesity + outlier_obesity),
})

sns.set_theme(style="whitegrid")
plt.rcParams["font.family"] = ["Liberation Sans", "DejaVu Sans"]

fig = plt.figure(figsize=(10.5, 6.485), dpi=200)
ax = fig.add_axes([0.141, 0.1288, 0.816, 0.714])

sns.regplot(data=df, x="poverty", y="obesity", ax=ax, ci=None,
            scatter_kws=dict(s=40, color="black", alpha=0.2, linewidths=0.6),
            line_kws=dict(color="#00649E", lw=3.2))

ax.set_xlim(-1.26, 59.0)
ax.set_ylim(13.27, 45.9)
ax.xaxis.set_major_locator(MultipleLocator(20))
ax.xaxis.set_minor_locator(MultipleLocator(10))
ax.yaxis.set_major_locator(MultipleLocator(10))
ax.yaxis.set_minor_locator(MultipleLocator(5))
pct = FuncFormatter(lambda v, _: f"{v:.0f}%")
ax.xaxis.set_major_formatter(pct)
ax.yaxis.set_major_formatter(pct)

ax.grid(which="both", color="#e4e4e4", lw=1.1)
ax.set_axisbelow(True)
for s in ax.spines.values():
    s.set_visible(False)
ax.set_facecolor("white")
ax.tick_params(which="both", length=0, labelsize=20.5, labelcolor="#7f7f7f")
ax.tick_params(axis="x", pad=6)
ax.tick_params(axis="y", pad=8)

ax.set_xlabel("Poverty rate", fontsize=20, color="#1a1a1a", labelpad=7)
ax.set_ylabel("Obesity rate", fontsize=20, color="#1a1a1a", labelpad=5)

fig.text(0.141, 1 - 86 / 1297, "Obesity and poverty are correlated in the US",
         fontsize=30.2, color="#222222", ha="left", va="baseline")
fig.text(0.141, 1 - 168 / 1297, "By county",
         fontsize=20.6, color="#333333", ha="left", va="baseline")

fig.savefig("out.png", dpi=200, facecolor="white")
